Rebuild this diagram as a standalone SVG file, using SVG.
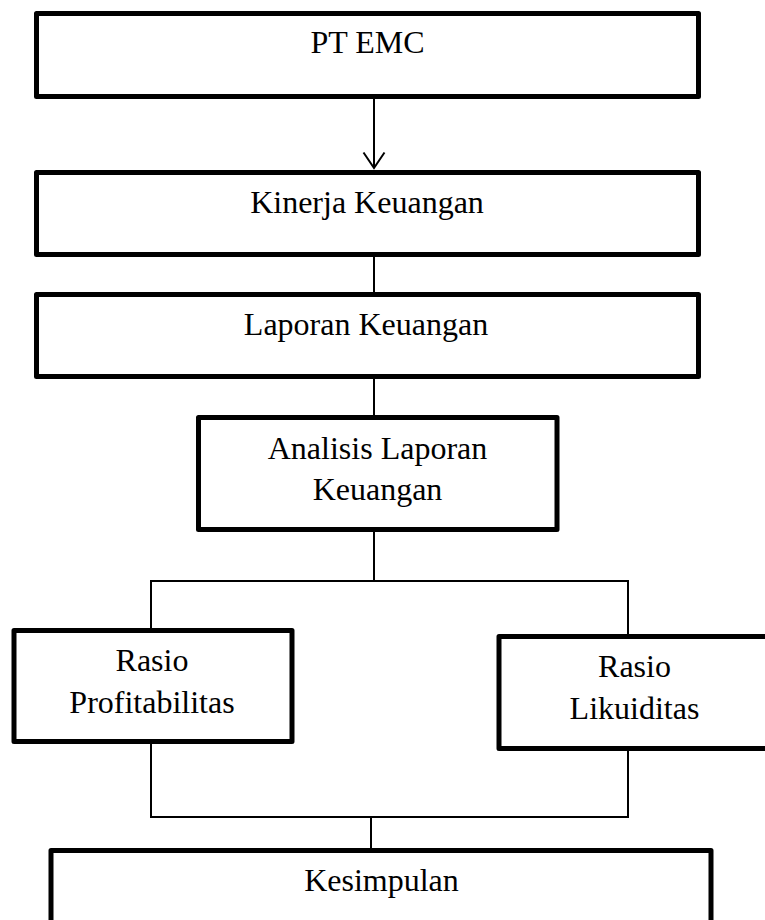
<svg xmlns="http://www.w3.org/2000/svg" width="765" height="920" viewBox="0 0 765 920">
<style>
.box{fill:#fff;stroke:#000;stroke-width:5;stroke-linejoin:round}
.t{font-family:"Liberation Serif","Times New Roman",serif;font-size:32px;fill:#000;text-anchor:middle}
.c{fill:none;stroke:#000;stroke-width:2}
</style>
<rect width="765" height="920" fill="#fff"/>
<g id="connectors">
<line class="c" x1="374" y1="99" x2="374" y2="168"/>
<polyline class="c" points="363.5,152.5 374,168 384.5,152.5"/>
<line class="c" x1="374" y1="257" x2="374" y2="292"/>
<line class="c" x1="374" y1="379" x2="374" y2="415"/>
<line class="c" x1="374" y1="532" x2="374" y2="581"/>
<polyline class="c" points="151,628 151,581 628,581 628,634"/>
<polyline class="c" points="151,744 151,817 628,817 628,751"/>
<line class="c" x1="371" y1="817" x2="371" y2="848"/>
</g>
<g id="pt-emc">
<rect class="box" x="36.5" y="13.5" width="662" height="83"/>
<text class="t" x="367.5" y="53">PT EMC</text>
</g>
<g id="kinerja-keuangan">
<rect class="box" x="36.5" y="172.5" width="662" height="82"/>
<text class="t" x="367" y="213">Kinerja Keuangan</text>
</g>
<g id="laporan-keuangan">
<rect class="box" x="36.5" y="294.5" width="662" height="82"/>
<text class="t" x="366" y="335">Laporan Keuangan</text>
</g>
<g id="analisis-laporan-keuangan">
<rect class="box" x="198.5" y="417.5" width="358.5" height="112"/>
<text class="t" x="377.5" y="459">Analisis Laporan</text>
<text class="t" x="377.5" y="500">Keuangan</text>
</g>
<g id="rasio-profitabilitas">
<rect class="box" x="14" y="630.5" width="278" height="111"/>
<text class="t" x="152" y="671">Rasio</text>
<text class="t" x="152" y="713">Profitabilitas</text>
</g>
<g id="rasio-likuiditas">
<rect class="box" x="499" y="636.5" width="300" height="112"/>
<text class="t" x="634.5" y="677">Rasio</text>
<text class="t" x="634.5" y="719">Likuiditas</text>
</g>
<g id="kesimpulan">
<rect class="box" x="51" y="850.5" width="660" height="100"/>
<text class="t" x="381.5" y="891">Kesimpulan</text>
</g>
</svg>
